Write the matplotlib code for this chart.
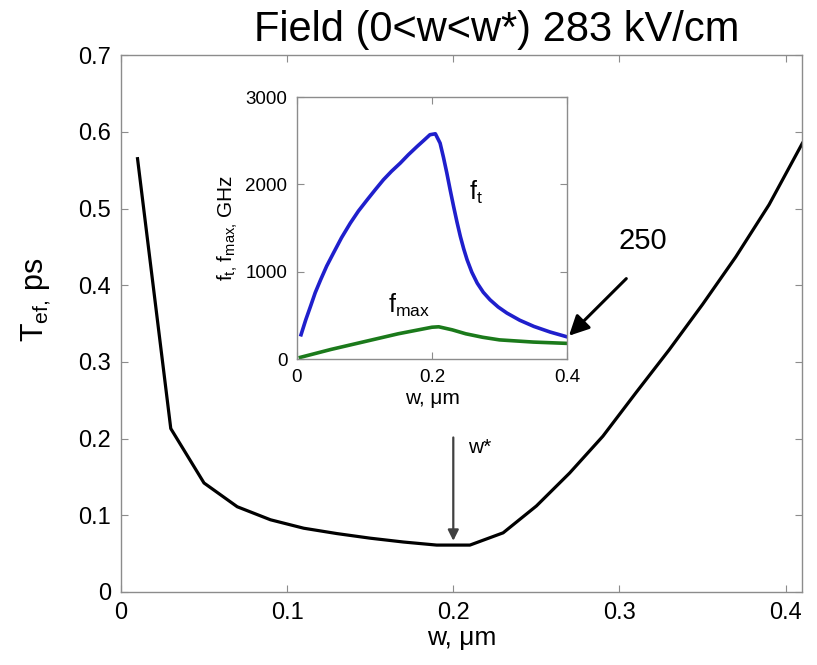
import matplotlib
matplotlib.use('Agg')  # no display
import matplotlib.pyplot as plt

plt.rcParams['font.family'] = ['Liberation Sans', 'DejaVu Sans']
plt.rcParams['mathtext.fontset'] = 'custom'
plt.rcParams['mathtext.rm'] = 'Liberation Sans'
plt.rcParams['mathtext.it'] = 'Liberation Sans'
plt.rcParams['mathtext.default'] = 'regular'

# main curve: effective time vs base width
w_main = [0.01, 0.03, 0.05, 0.07, 0.09, 0.11, 0.13, 0.15, 0.17, 0.19, 0.21,
          0.23, 0.25, 0.27, 0.29, 0.31, 0.33, 0.35, 0.37, 0.39, 0.41]
t_ef = [0.565, 0.213, 0.142, 0.111, 0.094, 0.083, 0.076, 0.070, 0.065, 0.061, 0.061,
        0.077, 0.112, 0.155, 0.203, 0.260, 0.316, 0.375, 0.437, 0.505, 0.585]

# inset: cutoff frequencies
w_ft = [0.006, 0.013, 0.02, 0.027, 0.035, 0.044, 0.054, 0.066, 0.079, 0.091, 0.104,
        0.116, 0.128, 0.14, 0.153, 0.165, 0.178, 0.188, 0.197, 0.205,
        0.212, 0.217, 0.222, 0.227, 0.232, 0.237, 0.242, 0.247, 0.252, 0.259,
        0.267, 0.276, 0.286, 0.298, 0.311, 0.33, 0.351, 0.375, 0.40]
f_t = [279, 450, 603, 760, 908, 1065, 1214, 1390, 1557, 1695, 1824,
       1940, 2053, 2150, 2244, 2340, 2435, 2505, 2569, 2580,
       2473, 2310, 2130, 1935, 1748, 1570, 1405, 1262, 1137, 995,
       870, 765, 679, 597, 527, 445, 374, 310, 255]
w_fmax = [0.005, 0.05, 0.10, 0.15, 0.20, 0.21, 0.23, 0.25, 0.275, 0.30, 0.35, 0.40]
f_max = [20, 110, 200, 290, 365, 370, 335, 290, 250, 220, 195, 180]

main_xticks = [0, 0.1, 0.2, 0.3, 0.4]
main_yticks = [0, 0.1, 0.2, 0.3, 0.4, 0.5, 0.6, 0.7]
inset_xticks = [0, 0.2, 0.4]
inset_yticks = [0, 1000, 2000, 3000]

SPINE = '0.55'


def style_axes(ax, size):
    for s in ax.spines.values():
        s.set_color(SPINE)
        s.set_linewidth(1.0)
    ax.tick_params(direction='in', top=True, right=True, length=5,
                   color=SPINE, labelsize=size, pad=7)


fig = plt.figure(figsize=(8.17, 6.65), dpi=100)

ax = fig.add_axes([0.148, 0.110, 0.834, 0.807])
ax.plot(w_main, t_ef, color='black', lw=2.3)
ax.set_xlim(0, 0.41)
ax.set_ylim(0, 0.7)
ax.set_xticks(main_xticks)
ax.set_xticklabels(['0', '0.1', '0.2', '0.3', '0.4'])
ax.set_yticks(main_yticks)
ax.set_yticklabels(['0', '0.1', '0.2', '0.3', '0.4', '0.5', '0.6', '0.7'])
style_axes(ax, 17)
ax.set_xlabel('w, \u03bcm', fontsize=19, labelpad=2)
ax.set_ylabel(r'T$_{ef,}\,$ps', fontsize=22)
ax.yaxis.set_label_coords(-0.10, 0.545)

ax.annotate('', xy=(0.2, 0.063), xytext=(0.2, 0.205),
            arrowprops=dict(arrowstyle='-|>', color='0.25', lw=1.6, mutation_scale=16))
ax.text(0.209, 0.181, 'w*', fontsize=15)

fig.text(0.608, 0.955, 'Field (0<w<w*) 283 kV/cm', fontsize=30, ha='center', va='center')

# inset
axi = fig.add_axes([0.3635, 0.460, 0.3305, 0.394])
axi.plot(w_ft, f_t, color='#1f1fcc', lw=2.6, solid_joinstyle='round')
axi.plot(w_fmax, f_max, color='#1b7a1b', lw=2.6, solid_joinstyle='round')
axi.set_xlim(0, 0.4)
axi.set_ylim(0, 3000)
axi.set_xticks(inset_xticks)
axi.set_xticklabels(['0', '0.2', '0.4'])
axi.set_yticks(inset_yticks)
style_axes(axi, 13.5)
axi.set_xlabel('w, \u03bcm', fontsize=15, labelpad=2)
axi.set_ylabel(r'f$_{t,}\,$f$_{max,}\,$GHz', fontsize=15, labelpad=4)
axi.text(0.255, 1750, 'f$_t$', fontsize=18, va='bottom')
axi.text(0.135, 460, 'f$_{max}$', fontsize=18, va='bottom')

axi.annotate('', xy=(0.4, 245), xycoords='data',
             xytext=(0.769, 0.584), textcoords='figure fraction',
             arrowprops=dict(arrowstyle='-|>', color='black', lw=2.2, mutation_scale=30),
             annotation_clip=False)
fig.text(0.787, 0.637, '250', fontsize=21, ha='center', va='center')

fig.savefig('out.png', dpi=100)
